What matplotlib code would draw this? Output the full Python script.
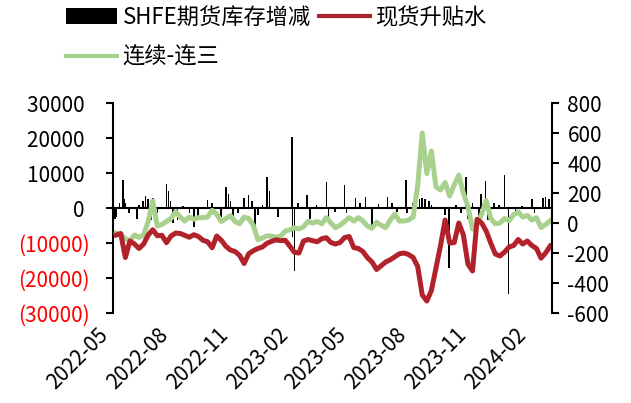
import matplotlib.pyplot as plt
import pandas as pd
from matplotlib.lines import Line2D
from matplotlib.patches import Patch

plt.rcParams['font.family'] = ['Noto Sans CJK SC', 'DejaVu Sans']
plt.rcParams['axes.unicode_minus'] = False

# weekly readings of the two spread lines (right axis, yuan/ton)
week_dates = pd.date_range('2022-05-06', periods=96, freq='7D')

spot_premium = [
    -80, -70, -230, -120, -140, -170, -140, -80, -45, -85,
    -82, -131, -87, -67, -70, -82, -95, -78, -90, -115,
    -125, -165, -87, -115, -155, -180, -190, -215, -270, -205,
    -185, -170, -160, -135, -122, -112, -118, -115, -154, -195,
    -200, -120, -110, -118, -125, -105, -98, -130, -140, -130,
    -97, -90, -164, -170, -190, -231, -260, -310, -285, -260,
    -245, -225, -205, -200, -210, -230, -290, -480, -520, -450,
    -300, -150, 20, -134, -130, 0, -80, -274, -320, 25,
    0, -54, -134, -207, -220, -194, -160, -150, -110, -140,
    -120, -150, -170, -234, -200, -154,
]

spread_c1_c3 = [
    -67, -76, -105, -118, -80, -95, -80, 10, 147, -20,
    -10, 10, 30, 75, 40, 13, 40, 25, 36, 36,
    40, 85, 58, 10, 30, 50, 10, -5, 40, 30,
    -15, -110, -100, -85, -87, -95, -87, -54, -45, -31,
    -40, -25, 10, 0, 10, -5, 36, 0, -31, -15,
    10, 36, 13, 36, 13, -20, -35, 5, -15, -31,
    20, 60, 13, 13, 20, 40, 250, 600, 330, 480,
    240, 220, 270, 180, 255, 320, 200, 110, -40, -10,
    60, 150, 30, -5, 0, 30, 15, 55, 75, 40,
    50, 20, 35, -30, -10, 15,
]

# SHFE warehouse stock changes (left axis, tons)
bar_dates = pd.to_datetime([
    '2022-05-04', '2022-05-06', '2022-05-11', '2022-05-16', '2022-05-18', '2022-05-20',
    '2022-05-26', '2022-06-07', '2022-06-10', '2022-06-16', '2022-06-20', '2022-06-24',
    '2022-06-29', '2022-07-01', '2022-07-08', '2022-07-22', '2022-07-25', '2022-07-28',
    '2022-08-01', '2022-08-08', '2022-08-16', '2022-08-26', '2022-09-02', '2022-09-08',
    '2022-09-23', '2022-09-30', '2022-10-14', '2022-10-21', '2022-10-25', '2022-10-28',
    '2022-11-01', '2022-11-09', '2022-11-18', '2022-11-25', '2022-11-30', '2022-12-05',
    '2022-12-09', '2022-12-16', '2022-12-22', '2022-12-23', '2022-12-27', '2023-01-09',
    '2023-01-30', '2023-01-31', '2023-02-03', '2023-02-09', '2023-02-22', '2023-02-27',
    '2023-03-09', '2023-03-24', '2023-03-27', '2023-04-06', '2023-04-21', '2023-04-24',
    '2023-05-08', '2023-05-15', '2023-05-23', '2023-06-02', '2023-06-12', '2023-06-26',
    '2023-07-03', '2023-07-10', '2023-07-24', '2023-07-26', '2023-08-04', '2023-08-14',
    '2023-08-18', '2023-08-22', '2023-08-28', '2023-09-01', '2023-09-22', '2023-09-28',
    '2023-10-09', '2023-10-16', '2023-10-24', '2023-10-26', '2023-11-03', '2023-11-13',
    '2023-11-16', '2023-11-23', '2023-11-27', '2023-12-06', '2023-12-14', '2023-12-22',
    '2023-12-28', '2024-01-08', '2024-01-18', '2024-02-02', '2024-02-06', '2024-02-19',
    '2024-02-23', '2024-02-28',
])
stock_change = [
    -3000, -2500, 1500, 8000, 2500, 1300,
    -1500, -3000, 800, 2000, 3500, 2500,
    -3400, 2800, -1500, 7000, 5000, 2000,
    -4400, -3500, 600, -1500, -5300, -3000,
    2300, 1500, -2500, 6100, 4000, 2000,
    -3500, -1500, 2800, 3700, 2000, -6300,
    -2000, 800, 3500, 9000, 5000, -2500,
    20400, -8200, -18000, 1500, 3700, -3000,
    800, 7500, -2500, -1200, 6600, -1500,
    2800, 1500, 3200, -5300, 1200, 3200,
    1500, -1000, 8000, -1500, 1500, 2500,
    3000, 2500, 2000, 800, -2000, -17000,
    1000, -1500, 9000, -3000, 1500, -4000,
    4000, 7800, -3500, 1500, 800, 9400,
    -24500, -1000, 500, 2500, -1500, 3000,
    3200, 2500,
]

tick_dates = pd.to_datetime(['2022-05-01', '2022-08-01', '2022-11-01', '2023-02-01',
                             '2023-05-01', '2023-08-01', '2023-11-01', '2024-02-01'])
left_ticks = [-30000, -20000, -10000, 0, 10000, 20000, 30000]
right_ticks = [-600, -400, -200, 0, 200, 400, 600, 800]

red = '#B2222A'
green = '#A9D18E'

fig = plt.figure(figsize=(6.31, 4.03), dpi=100)
ax = fig.add_axes([0.179, 0.2233, 0.696, 0.5211])

ax.bar(bar_dates, stock_change, width=2.4, color='black', linewidth=0)
ax.axhline(0, color='black', lw=1.5, zorder=3)
ax.set_ylim(-30000, 30000)
ax.set_yticks(left_ticks)
ax.set_yticklabels([f'({abs(v)})' if v < 0 else f'{v} ' for v in left_ticks])
for lab, v in zip(ax.get_yticklabels(), left_ticks):
    lab.set_color('red' if v < 0 else 'black')
ax.set_xlim(pd.Timestamp('2022-05-01'), pd.Timestamp('2024-03-04'))
ax.set_xticks(tick_dates)
ax.set_xticklabels([d.strftime('%Y-%m') for d in tick_dates], rotation=45, ha='right')
ax.tick_params(axis='x', length=0, pad=8, labelsize=15)
ax.tick_params(axis='y', direction='out', length=5, width=1.5, pad=12, labelsize=15)

ax2 = ax.twinx()
ax2.plot(week_dates, spread_c1_c3, color=green, lw=3.6, solid_joinstyle='round')
ax2.plot(week_dates, spot_premium, color=red, lw=3.6, solid_joinstyle='round')
ax2.set_ylim(-600, 800)
ax2.set_yticks(right_ticks)
ax2.tick_params(axis='y', direction='out', length=5, width=1.5, pad=6, labelsize=15)

for a in (ax, ax2):
    a.spines['top'].set_visible(False)
    a.spines['bottom'].set_visible(False)
ax.spines['right'].set_visible(False)
ax2.spines['left'].set_visible(False)
ax.spines['left'].set_linewidth(1.5)
ax2.spines['right'].set_linewidth(1.5)

handles = [Patch(facecolor='black'), Line2D([], [], color=green, lw=3),
           Line2D([], [], color=red, lw=3)]
labels = ['SHFE期货库存增减', '连续-连三', '现货升贴水']
fig.legend(handles, labels, ncol=2, loc='upper left', bbox_to_anchor=(66 / 631, 1 - 6 / 403),
           frameon=False, fontsize=16, handlelength=2.3, handletextpad=0.25,
           columnspacing=0.35, labelspacing=0.75, borderpad=0, borderaxespad=0)

fig.savefig('out.png', dpi=100)
